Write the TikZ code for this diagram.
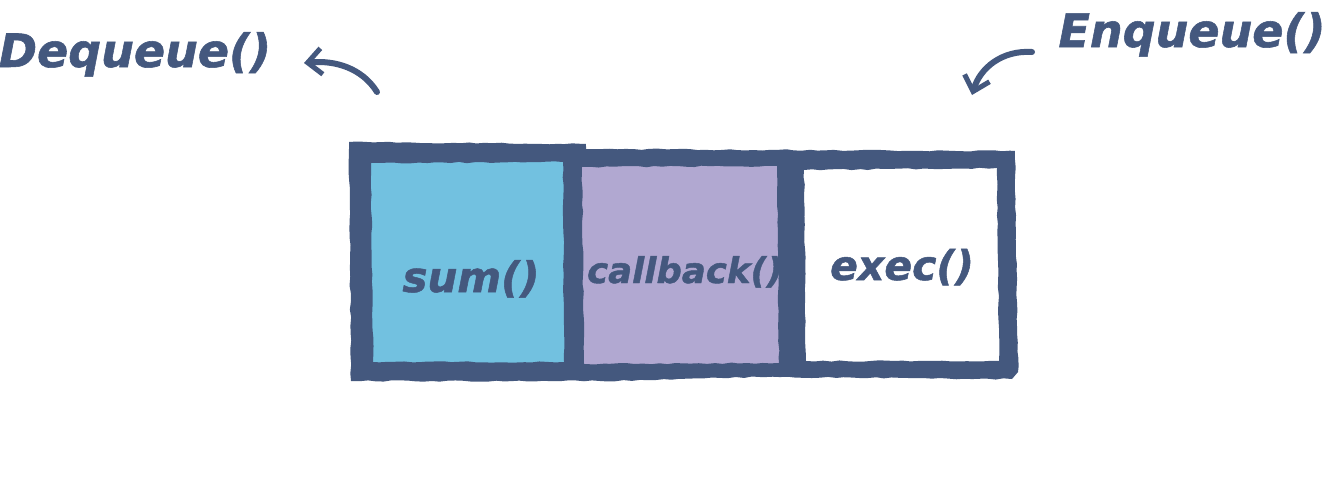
\documentclass[tikz,border=0pt]{standalone}
\usepackage{fontspec}
\newfontfamily\handfont{DejaVu Sans}[BoldItalicFeatures={FakeBold=1.2}]
\usetikzlibrary{arrows.meta,decorations.pathmorphing}
\definecolor{ink}{HTML}{44587E}
\definecolor{cyanfill}{HTML}{72C1E0}
\definecolor{purplefill}{HTML}{B1A8D1}
\tikzset{
  rough/.style={decorate,decoration={random steps,segment length=8pt,amplitude=0.7pt}},
  lbl/.style={text=ink,font=\handfont\bfseries\itshape\fontsize{#1}{#1}\selectfont,inner sep=0pt,anchor=base},
  sketcharrow/.style={draw=ink,line width=6pt,line cap=round,
    -{Straight Barb[length=14pt,width=26pt,line width=5pt]}}
}
\begin{document}
\begin{tikzpicture}[x=1pt,y=-1pt]
\useasboundingbox (0,0) rectangle (1339,488);
\fill[white] (0,0) rectangle (1339,488);
% cell fills (extend under the frame)
\fill[cyanfill] (366,159) rectangle (569,367);
\fill[purplefill] (577,163) rectangle (784,369);
\fill[white] (799,166) rectangle (1004,366);
% labels
\node[lbl=42pt] (sum) at (471,292) {sum()};
\node[lbl=35.5pt] (cb) at (685,283) {callback()};
\node[lbl=41pt] (ex) at (902,280) {exec()};
\node[lbl=46pt] (deq) at (135,67) {Dequeue()};
\node[lbl=46pt] (enq) at (1192,47) {Enqueue()};
% outer frame with holes (even odd)
\fill[ink,even odd rule,rough]
  (349,142) -- (586,144) -- (586,149) -- (1015,151) -- (1018,372) -- (1012,379)
  -- (760,377) -- (600,381) -- (351,381) -- cycle
  (371,163) -- (563,162) -- (564,362) -- (373,362) -- cycle
  (582,167) -- (777,166) -- (779,363) -- (584,364) -- cycle
  (804,170) -- (997,168) -- (999,361) -- (806,361) -- cycle;
% arrows
\coordinate (d1) at (377,92);
\coordinate (d2) at (304,63);
\coordinate (e1) at (1032,52);
\coordinate (e2) at (972,95);
\draw[sketcharrow] (d1) .. controls (362,68) and (335,60) .. (d2);
\draw[sketcharrow] (e1) .. controls (1002,50) and (980,68) .. (e2);
\end{tikzpicture}
\end{document}
